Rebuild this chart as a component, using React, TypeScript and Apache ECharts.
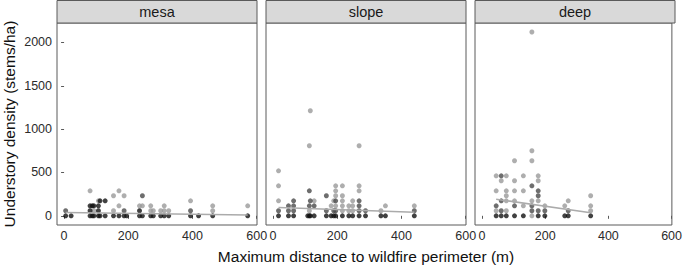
import React, { useEffect, useRef } from "react";
import * as echarts from "echarts";

// ---- data (x = max distance to wildfire perimeter, m; y = understory density, stems/ha)
const panels = ["mesa", "slope", "deep"];

const mesaGray = [[81,288],[93,58],[107,173],[154,231],[154,58],[171,288],[171,115],[187,231],[235,115],[244,115],[270,115],[270,58],[278,58],[301,58],[312,115],[312,58],[326,58],[394,173],[463,115],[463,58],[572,115]];
const mesaDark = [[5,58],[244,231],[187,58],[394,58]];
const mesaBlack = [[5,0],[22,0],[81,115],[81,58],[81,0],[88,115],[88,0],[93,115],[93,0],[107,115],[107,58],[107,0],[112,173],[112,0],[128,173],[128,0],[154,0],[171,0],[187,0],[195,0],[235,58],[235,0],[244,0],[270,0],[278,0],[301,0],[312,0],[326,0],[394,0],[419,0],[463,0],[572,0]];

const slopeGray = [[17,519],[17,346],[17,173],[113,808],[113,58],[116,1212],[128,173],[181,115],[189,173],[195,346],[195,288],[195,231],[195,115],[216,346],[216,231],[216,173],[216,115],[216,58],[236,115],[236,58],[248,173],[248,115],[248,58],[268,808],[268,346],[268,288],[336,58],[350,115],[440,115]];
const slopeDark = [[17,58],[48,115],[48,58],[64,173],[64,115],[64,58],[113,288],[113,115],[116,173],[128,115],[166,231],[166,58],[189,58],[195,173],[195,58],[268,173],[268,115],[268,58],[288,58],[440,58]];
const slopeBlack = [[17,0],[48,0],[64,0],[108,0],[113,0],[116,0],[128,0],[166,0],[181,0],[189,0],[195,0],[216,0],[236,0],[248,0],[268,0],[288,0],[336,0],[350,0],[440,0]];

const deepGray = [[45,461],[45,288],[45,58],[61,404],[77,461],[77,288],[77,231],[77,173],[77,58],[103,635],[103,404],[103,288],[103,173],[131,461],[131,288],[131,115],[158,2120],[158,750],[158,635],[158,173],[158,0],[178,461],[178,404],[178,173],[199,115],[262,115],[273,173],[344,231],[344,115],[344,58]];
const deepDark = [[45,115],[61,461],[61,173],[61,58],[103,115],[158,346],[158,115],[158,58],[178,288],[178,231],[178,58],[199,58],[273,58]];
const deepBlack = [[45,0],[61,0],[77,0],[103,0],[131,0],[178,0],[199,0],[262,0],[273,0],[344,0]];

const mesaLine = [[5,38],[572,8]];
const slopeLine = [[17,96],[440,42]];
const deepLine = [[45,192],[344,35]];

const xTicks = [0, 200, 400, 600];
const yTicks = [0, 500, 1000, 1500, 2000];

const xTitle = "Maximum distance to wildfire perimeter (m)";
const yTitle = "Understory density (stems/ha)";

const panelData = [
  { gray: mesaGray, dark: mesaDark, black: mesaBlack, line: mesaLine },
  { gray: slopeGray, dark: slopeDark, black: slopeBlack, line: slopeLine },
  { gray: deepGray, dark: deepDark, black: deepBlack, line: deepLine },
];

// ---- layout
const W = 685;
const H = 265;
const LEFTS = [57, 266, 475];
const PW = 200;
const TOP = 23;
const PH = 202;
const FONT = "Liberation Sans, Arial, sans-serif";

export default function App() {
  const ref = useRef<HTMLDivElement>(null);
  useEffect(() => {
    if (!ref.current) return;
    const chart = echarts.init(ref.current, null, { renderer: "svg", width: W, height: H });
    const grids = LEFTS.map((l) => ({
      left: l, top: TOP, width: PW, height: PH,
      show: true, borderColor: "#5a5a5a", borderWidth: 1, backgroundColor: "#fff",
    }));
    const xAxes = LEFTS.map((_, i) => ({
      type: "value", gridIndex: i, min: -22, max: 601,
      axisLine: { show: false },
      axisTick: { show: true, length: 3, inside: false, customValues: xTicks, lineStyle: { color: "#5a5a5a" } },
      axisLabel: { show: true, customValues: xTicks, color: "#2b2b2b", fontSize: 12.5, fontFamily: FONT, margin: 4, formatter: (v: number) => String(v) },
      splitLine: { show: false },
    }));
    const yAxes = LEFTS.map((_, i) => ({
      type: "value", gridIndex: i, min: -106, max: 2224,
      axisLine: { show: false },
      axisTick: { show: i === 0, length: 3, inside: false, customValues: yTicks, lineStyle: { color: "#5a5a5a" } },
      axisLabel: { show: i === 0, customValues: yTicks, color: "#2b2b2b", fontSize: 12.5, fontFamily: FONT, margin: 5, formatter: (v: number) => String(v) },
      splitLine: { show: false },
    }));
    const series: any[] = [];
    panelData.forEach((p, i) => {
      const sc = (data: number[][], color: string, z: number) => ({
        type: "scatter", xAxisIndex: i, yAxisIndex: i, data, symbolSize: 5, z,
        itemStyle: { color }, silent: true,
      });
      series.push(sc(p.gray, "#9a9a9a", 2));
      series.push(sc(p.dark, "#4a4a4a", 3));
      series.push(sc(p.black, "#111111", 4));
      series.push({
        type: "line", xAxisIndex: i, yAxisIndex: i, data: p.line, symbol: "none", z: 5,
        lineStyle: { color: "#ababab", width: 1.5 }, silent: true,
      });
    });
    const graphics: any[] = [];
    LEFTS.forEach((l, i) => {
      graphics.push({
        type: "rect", shape: { x: l, y: 0.5, width: PW, height: TOP - 0.5 },
        style: { fill: "#d9d9d9", stroke: "#5a5a5a", lineWidth: 1 },
      });
      graphics.push({
        type: "text", x: l + PW / 2, y: 12,
        style: { text: panels[i], fill: "#1a1a1a", font: `14.5px ${FONT}`, align: "center", verticalAlign: "middle" },
      });
    });
    graphics.push({
      type: "text", x: (LEFTS[0] + LEFTS[2] + PW) / 2, y: 256,
      style: { text: xTitle, fill: "#111", font: `15.5px ${FONT}`, align: "center", verticalAlign: "middle" },
    });
    graphics.push({
      type: "text", x: 9, y: TOP + PH / 2, rotation: Math.PI / 2,
      style: { text: yTitle, fill: "#111", font: `15.5px ${FONT}`, align: "center", verticalAlign: "middle" },
    });
    chart.setOption({
      animation: false,
      backgroundColor: "#fff",
      grid: grids,
      xAxis: xAxes,
      yAxis: yAxes,
      series,
      graphic: graphics,
    });
    return () => chart.dispose();
  }, []);
  return <div ref={ref} style={{ position: "fixed", left: 0, top: 0, width: W, height: H }} />;
}
